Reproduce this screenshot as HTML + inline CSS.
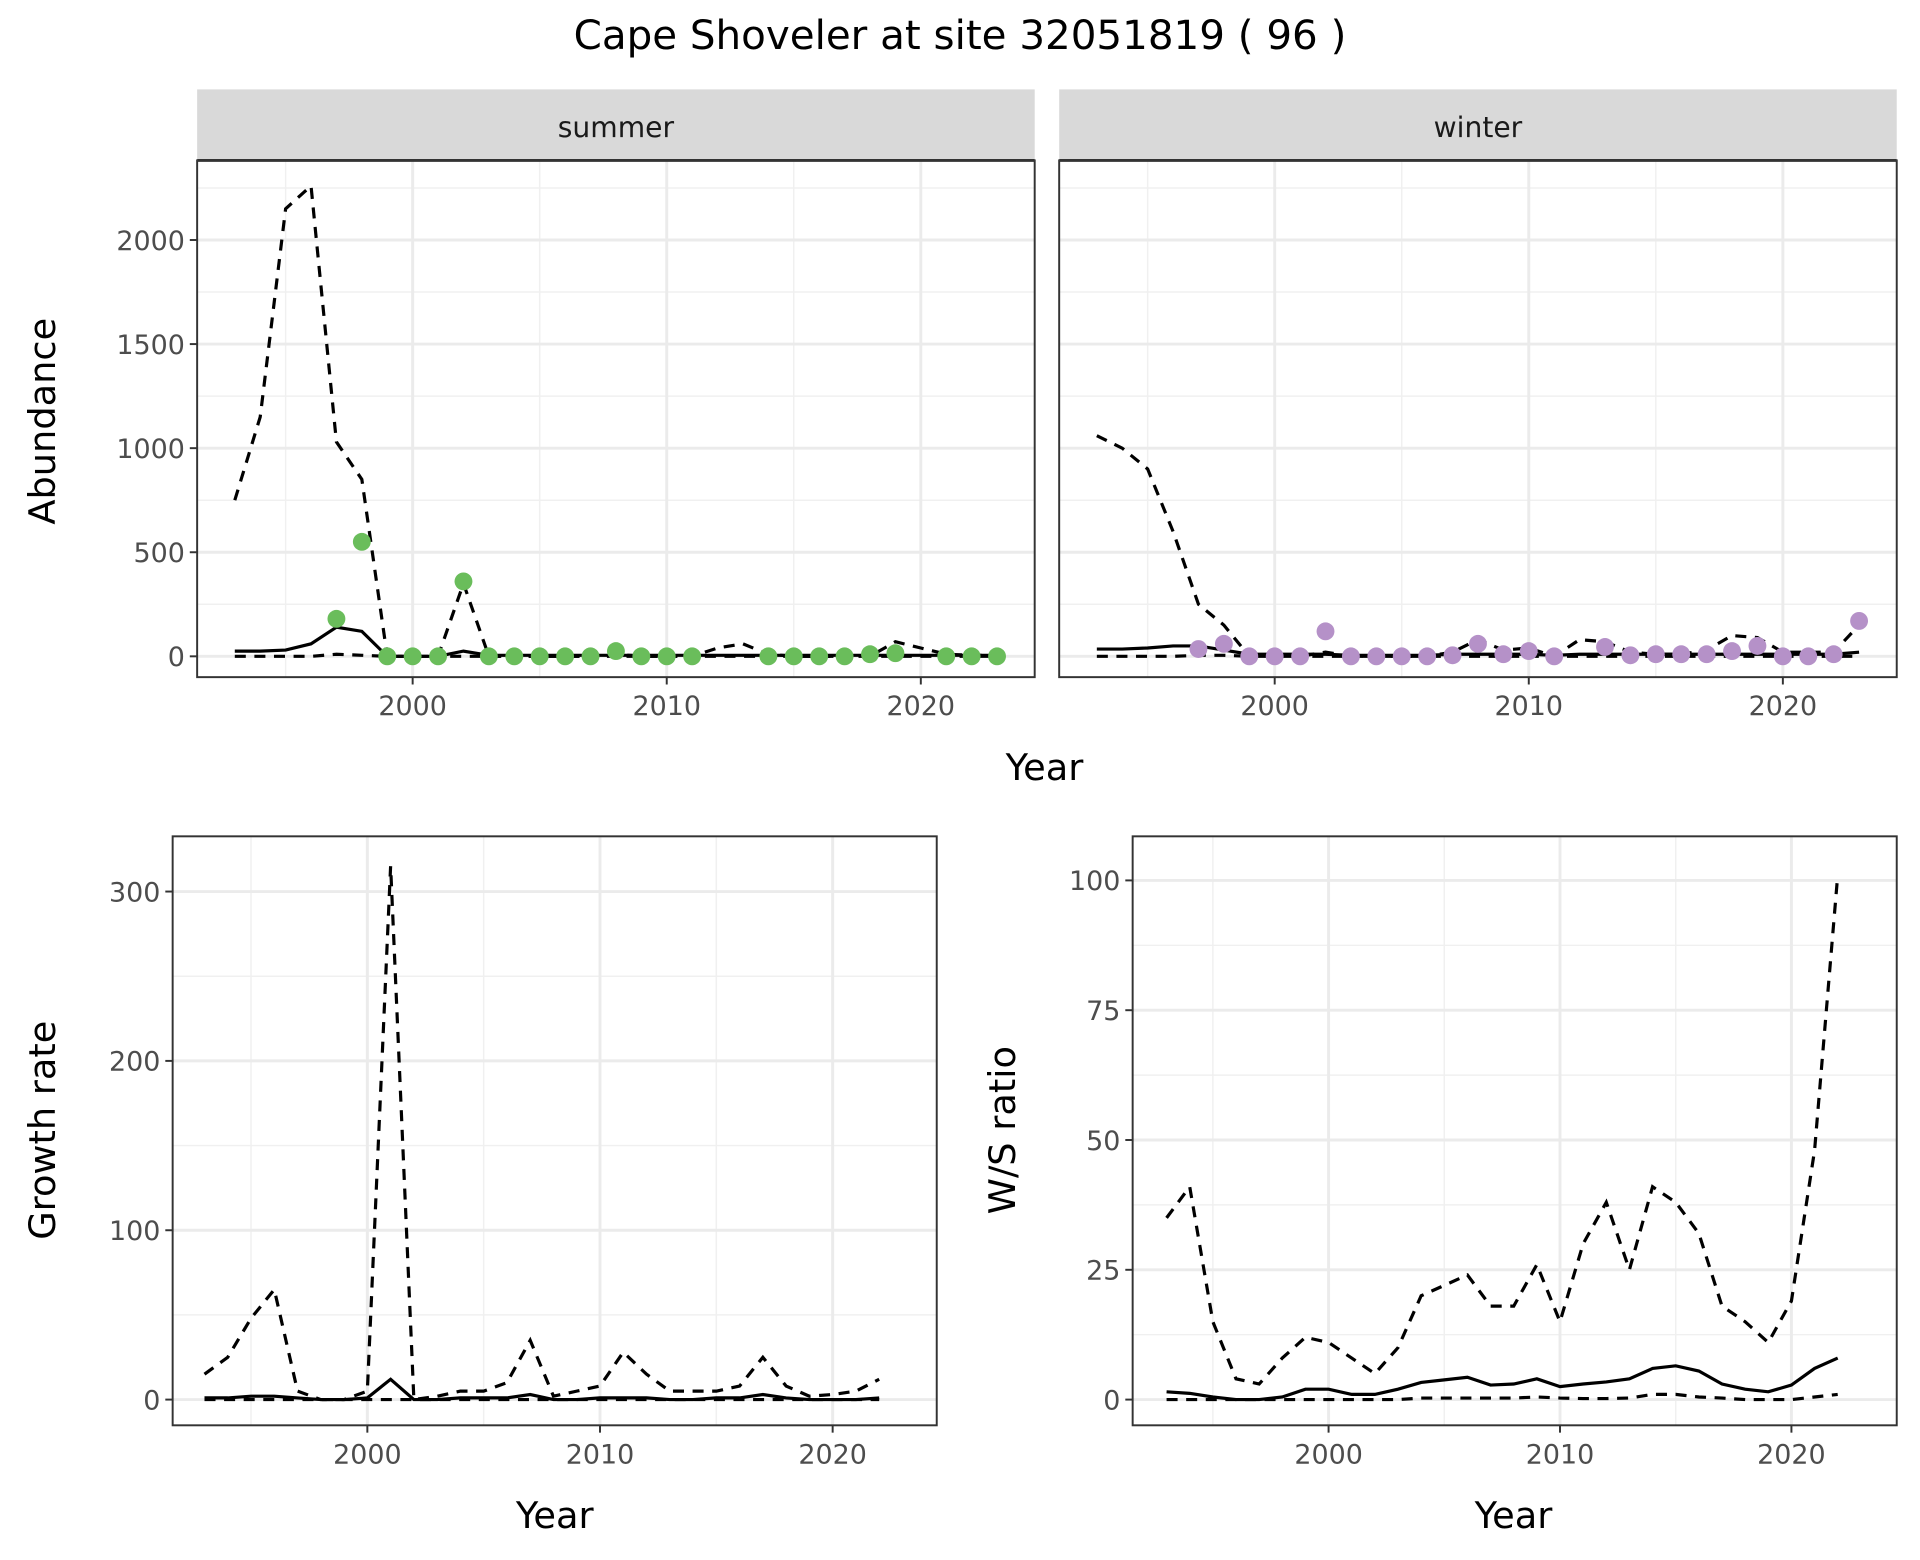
<!DOCTYPE html>
<html><head><meta charset="utf-8"><style>
html,body{margin:0;padding:0;background:#fff;}
svg{display:block;font-family:"DejaVu Sans","Liberation Sans",sans-serif;}
</style></head><body>
<svg id="chart" width="1920" height="1560" viewBox="0 0 1568 1274" xmlns="http://www.w3.org/2000/svg">
<rect width="1568" height="1274" fill="#fff"/>
<text x="784" y="40" font-size="33" text-anchor="middle" fill="#000">Cape Shoveler at site 32051819 ( 96 )</text>
<g id="root"></g>
</svg>
<script>
const summerYears=[1993,1994,1995,1996,1997,1998,1999,2000,2001,2002,2003,2004,2005,2006,2007,2008,2009,2010,2011,2012,2013,2014,2015,2016,2017,2018,2019,2020,2021,2022,2023];
const summerUpper=[750,1150,2150,2260,1030,850,0,0,0,350,0,0,0,0,0,10,0,0,0,40,60,10,0,0,0,0,70,40,10,5,5];
const summerMid=[25,25,30,60,140,120,0,0,0,25,5,5,5,5,5,5,5,5,5,5,5,5,5,5,5,5,5,5,5,5,5];
const summerLower=[0,0,0,0,10,5,0,0,0,0,0,0,0,0,0,0,0,0,0,0,0,0,0,0,0,0,0,0,0,0,0];
const summerPtYears=[1997,1998,1999,2000,2001,2002,2003,2004,2005,2006,2007,2008,2009,2010,2011,2014,2015,2016,2017,2018,2019,2021,2022,2023];
const summerPts=[180,550,0,0,0,360,0,0,0,0,0,25,0,0,0,0,0,0,0,10,15,0,0,0];
const winterYears=summerYears;
const winterUpper=[1060,1000,900,600,250,150,0,0,0,20,0,0,0,0,20,80,30,40,0,80,70,20,10,10,30,100,90,20,20,20,150];
const winterMid=[35,35,40,50,50,30,10,10,10,10,5,5,5,5,10,10,10,10,5,10,10,10,10,10,10,10,10,10,10,10,20];
const winterLower=[0,0,0,0,5,5,0,0,0,0,0,0,0,0,0,0,0,0,0,0,0,0,0,0,0,0,0,0,0,0,0];
const winterPtYears=[1997,1998,1999,2000,2001,2002,2003,2004,2005,2006,2007,2008,2009,2010,2011,2013,2014,2015,2016,2017,2018,2019,2020,2021,2022,2023];
const winterPts=[35,60,0,0,0,120,0,0,0,0,5,60,10,25,0,45,5,10,10,10,25,50,0,0,10,170];
const grYears=[1993,1994,1995,1996,1997,1998,1999,2000,2001,2002,2003,2004,2005,2006,2007,2008,2009,2010,2011,2012,2013,2014,2015,2016,2017,2018,2019,2020,2021,2022];
const grUpper=[15,25,48,65,5,0,0,5,315,0,2,5,5,10,35,2,5,8,28,15,5,5,5,8,25,8,2,3,5,12];
const grMid=[1,1,2,2,1,0,0,1,12,0,0,1,1,1,3,0,0,1,1,1,0,0,1,1,3,1,0,0,0,1];
const grLower=[0,0,0,0,0,0,0,0,0,0,0,0,0,0,0,0,0,0,0,0,0,0,0,0,0,0,0,0,0,0];
const wsUpper=[35,41,15,4,3,8,12,11,8,5,10,20,22,24,18,18,26,15,30,38,25,41,38,32,18,15,11,19,48,101];
const wsMid=[1.5,1.2,0.5,0,0,0.5,2,2,1,1,2,3.3,3.8,4.3,2.8,3,4,2.5,3,3.4,4,6,6.5,5.5,3,2,1.5,2.8,6,8];
const wsLower=[0,0,0,0,0,0,0,0,0,0,0,0.3,0.3,0.3,0.3,0.3,0.5,0.3,0.2,0.2,0.3,1,1,0.5,0.3,0,0,0,0.5,1];
const xTicks=[2000,2010,2020];
const abTicks=[0,500,1000,1500,2000];
const grTicks=[0,100,200,300];
const wsTicks=[0,25,50,75,100];

const NS='http://www.w3.org/2000/svg';
const root=document.getElementById('root');
function mk(tag,attrs,parent){const e=document.createElementNS(NS,tag);for(const k in attrs)e.setAttribute(k,attrs[k]);(parent||root).appendChild(e);return e;}

function panel(cfg){
  const g=mk('g',{});
  
  
  const {x0,x1,y0,y1}=cfg;
  const sx=v=>cfg.xa+(v-2000)*cfg.xs;
  const sy=v=>cfg.ya-(v)*cfg.ys;
  cfg.xMinor.forEach(v=>{const l=mk('line',{x1:sx(v),x2:sx(v),y1:y0,y2:y1,stroke:'#f0f0f0','stroke-width':1.2},g);});
  cfg.yMinor.forEach(v=>{const l=mk('line',{x1:x0,x2:x1,y1:sy(v),y2:sy(v),stroke:'#f0f0f0','stroke-width':1.2},g);});
  xTicks.forEach(v=>{const l=mk('line',{x1:sx(v),x2:sx(v),y1:y0,y2:y1,stroke:'#ebebeb','stroke-width':2.4},g);});
  cfg.yTicks.forEach(v=>{const l=mk('line',{x1:x0,x2:x1,y1:sy(v),y2:sy(v),stroke:'#ebebeb','stroke-width':2.4},g);});
  const line=(xs,ys,dash,name)=>{const d=xs.map((x,i)=>(i?'L':'M')+sx(x).toFixed(2)+','+sy(ys[i]).toFixed(2)).join('');const p=mk('path',{d,fill:'none',stroke:'#000','stroke-width':2.6,'stroke-dasharray':dash||'none'},g);};
  line(cfg.xs_,cfg.lower,'9,7','lower-ci-line');
  line(cfg.xs_,cfg.upper,'9,7','upper-ci-line');
  line(cfg.xs_,cfg.mid,null,'estimate-line');
  if(cfg.px){cfg.px.forEach((x,i)=>{const c=mk('circle',{cx:sx(x),cy:sy(cfg.py[i]),r:7.3,fill:cfg.col},g);});}
  const b=mk('rect',{x:x0,y:y0,width:x1-x0,height:y1-y0,fill:'none',stroke:'#333','stroke-width':1.6},g);
  
  xTicks.forEach(v=>{mk('line',{x1:sx(v),x2:sx(v),y1:y1,y2:y1+6,stroke:'#333','stroke-width':1.6},g);const t=mk('text',{x:sx(v),y:y1+31,'font-size':22,'text-anchor':'middle',fill:'#4d4d4d'},g);t.textContent=v;});
  if(cfg.yLabels){cfg.yTicks.forEach(v=>{mk('line',{x1:x0-6,x2:x0,y1:sy(v),y2:sy(v),stroke:'#333','stroke-width':1.6},g);const t=mk('text',{x:x0-10,y:sy(v)+8,'font-size':22,'text-anchor':'end',fill:'#4d4d4d'},g);t.textContent=v;});}
  if(cfg.strip){const s=mk('rect',{x:x0,y:73,width:x1-x0,height:y0-73,fill:'#d9d9d9',stroke:'none'},g);mk('line',{x1:x0,x2:x1,y1:y0,y2:y0,stroke:'#333','stroke-width':2.4},g);const t=mk('text',{x:(x0+x1)/2,y:112,'font-size':23,'text-anchor':'middle',fill:'#1a1a1a'},g);t.textContent=cfg.strip;}
  return sx;
}
panel({name:'summer-panel',x0:161,x1:845,y0:131,y1:553,xa:337,xs:20.75,ya:536,ys:0.17,xMinor:[1995,2005,2015],yMinor:[250,750,1250,1750,2250],yTicks:abTicks,yLabels:true,xs_:summerYears,upper:summerUpper,mid:summerMid,lower:summerLower,px:summerPtYears,py:summerPts,col:'#6abd5b',strip:'summer'});
panel({name:'winter-panel',x0:865,x1:1549,y0:131,y1:553,xa:1041,xs:20.75,ya:536,ys:0.17,xMinor:[1995,2005,2015],yMinor:[250,750,1250,1750,2250],yTicks:abTicks,yLabels:false,xs_:winterYears,upper:winterUpper,mid:winterMid,lower:winterLower,px:winterPtYears,py:winterPts,col:'#b591c8',strip:'winter'});
panel({name:'growth-rate-panel',x0:141,x1:765,y0:683,y1:1164,xa:300,xs:19,ya:1143,ys:1.383,xMinor:[1995,2005,2015],yMinor:[50,150,250],yTicks:grTicks,yLabels:true,xs_:grYears,upper:grUpper,mid:grMid,lower:grLower});
panel({name:'ws-ratio-panel',x0:925,x1:1549,y0:683,y1:1164,xa:1085,xs:18.9,ya:1143,ys:4.24,xMinor:[1995,2005,2015],yMinor:[12.5,37.5,62.5,87.5],yTicks:wsTicks,yLabels:true,xs_:grYears,upper:wsUpper,mid:wsMid,lower:wsLower});
function lab(txt,x,y,rot,name){const t=mk('text',{x,y,'font-size':30,'text-anchor':'middle',fill:'#000',transform:rot?`rotate(-90 ${x} ${y})`:''});t.textContent=txt;}
lab('Year',853,637,false,'x-axis-title-top');
lab('Abundance',45,344,true,'y-axis-title-abundance');
lab('Year',453,1248,false,'x-axis-title-growth');
lab('Growth rate',45,923,true,'y-axis-title-growth');
lab('Year',1236,1248,false,'x-axis-title-ws');
lab('W/S ratio',829,923,true,'y-axis-title-ws');
</script>
</body></html>
